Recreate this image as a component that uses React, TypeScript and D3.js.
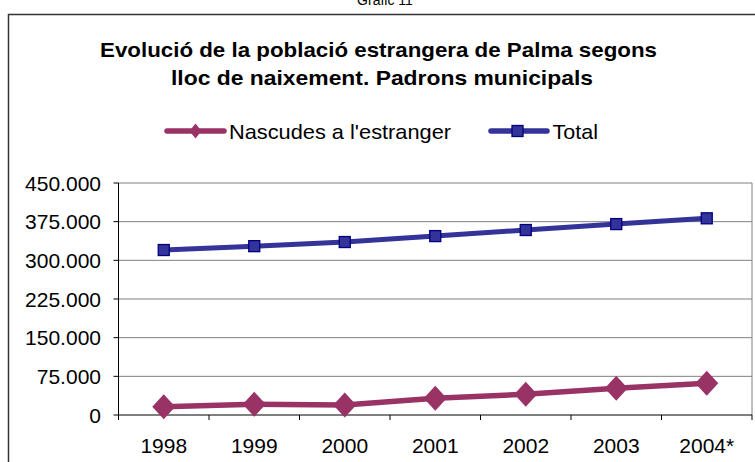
import React from "react";
import * as d3 from "d3";

const years = ["1998", "1999", "2000", "2001", "2002", "2003", "2004*"];
const nascudes = [16100, 20700, 19400, 32300, 40100, 51700, 61400];
const total = [320000, 327500, 335500, 347000, 358800, 370300, 381500];
const yTicks = [0, 75000, 150000, 225000, 300000, 375000, 450000];

const W = 755, H = 462;
const M = { left: 118.5, right: 752, top: 183, bottom: 415 };
const MAGENTA = "#993366";
const BLUE = "#333399";
const NAVY = "#000080";
const FONT = "Arial, 'Liberation Sans', sans-serif";
const FS = 21;

export default function App() {
  const x = d3.scaleBand<string>().domain(years).range([M.left, M.right]);
  const y = d3.scaleLinear().domain([0, 450000]).range([M.bottom, M.top]);
  const fmt = (v: number) => (v === 0 ? "0" : d3.format(",")(v).replace(/,/g, "."));
  const cx = (d: string) => (x(d) as number) + x.bandwidth() / 2;
  const line = d3.line<number>().x((_, i) => cx(years[i])).y((v) => y(v));
  const diamond = (px: number, py: number, rx: number, ry: number) =>
    `M${px},${py - ry}L${px + rx},${py}L${px},${py + ry}L${px - rx},${py}Z`;

  return (
    <svg width={W} height={H} style={{ position: "fixed", left: 0, top: 0, background: "#fff" }} fontFamily={FONT}>
      <rect x={0} y={0} width={W} height={H} fill="#fff" />
      <text x={385} y={5} textAnchor="middle" fontSize={14} fill="#000">Gràfic 11</text>
      <rect x={8.5} y={14.5} width={W + 10} height={H + 10} fill="none" stroke="#333" strokeWidth={1.5} />
      <text x={378.5} y={56.5} textAnchor="middle" fontSize={FS} fontWeight="bold" textLength={557} lengthAdjust="spacingAndGlyphs">
        Evolució de la població estrangera de Palma segons
      </text>
      <text x={382} y={85} textAnchor="middle" fontSize={FS} fontWeight="bold" textLength={422} lengthAdjust="spacingAndGlyphs">
        lloc de naixement. Padrons municipals
      </text>

      {/* legend */}
      <g>
        <line x1={167} x2={224} y1={131} y2={131} stroke={MAGENTA} strokeWidth={5.5} strokeLinecap="round" />
        <path d={diamond(195.5, 131, 6, 7.5)} fill={MAGENTA} />
        <text x={229} y={139} fontSize={FS} textLength={222} lengthAdjust="spacingAndGlyphs">Nascudes a l'estranger</text>
        <line x1={491} x2={547} y1={131} y2={131} stroke={BLUE} strokeWidth={5.5} strokeLinecap="round" />
        <rect x={512} y={125.5} width={11} height={11} fill={BLUE} stroke={NAVY} strokeWidth={1.3} />
        <text x={552.5} y={139} fontSize={FS} textLength={45.5} lengthAdjust="spacingAndGlyphs">Total</text>
      </g>

      {/* grid */}
      {yTicks.filter((t) => t > 0).map((t) => (
        <line key={t} x1={M.left} x2={M.right} y1={y(t)} y2={y(t)} stroke="#808080" strokeWidth={1} />
      ))}
      <line x1={M.right} x2={M.right} y1={M.top} y2={M.bottom} stroke="#808080" strokeWidth={1} />

      {/* axes */}
      <line x1={M.left} x2={M.left} y1={M.top} y2={M.bottom} stroke="#000" strokeWidth={1} />
      <line x1={M.left} x2={M.right} y1={M.bottom} y2={M.bottom} stroke="#000" strokeWidth={1} />
      {yTicks.map((t) => (
        <g key={t}>
          <line x1={M.left - 5} x2={M.left} y1={y(t)} y2={y(t)} stroke="#000" />
          <text x={101} y={y(t) + 7.5} textAnchor="end" fontSize={FS}>{fmt(t)}</text>
        </g>
      ))}
      {years.map((yr) => (
        <line key={"t" + yr} x1={x(yr) as number} x2={x(yr) as number} y1={M.bottom} y2={M.bottom + 5} stroke="#000" />
      ))}
      <line x1={M.right} x2={M.right} y1={M.bottom} y2={M.bottom + 5} stroke="#000" />
      {years.map((yr) => (
        <text key={"l" + yr} x={cx(yr)} y={452.5} textAnchor="middle" fontSize={FS}>{yr}</text>
      ))}

      {/* series */}
      <path d={line(total) as string} fill="none" stroke={BLUE} strokeWidth={5} />
      {total.map((v, i) => (
        <rect key={"s" + i} x={cx(years[i]) - 5.5} y={y(v) - 5.5} width={11} height={11} fill={BLUE} stroke={NAVY} strokeWidth={1.3} />
      ))}
      <path d={line(nascudes) as string} fill="none" stroke={MAGENTA} strokeWidth={5.5} />
      {nascudes.map((v, i) => (
        <path key={"d" + i} d={diamond(cx(years[i]), y(v), 11.5, 12.5)} fill={MAGENTA} />
      ))}
    </svg>
  );
}
